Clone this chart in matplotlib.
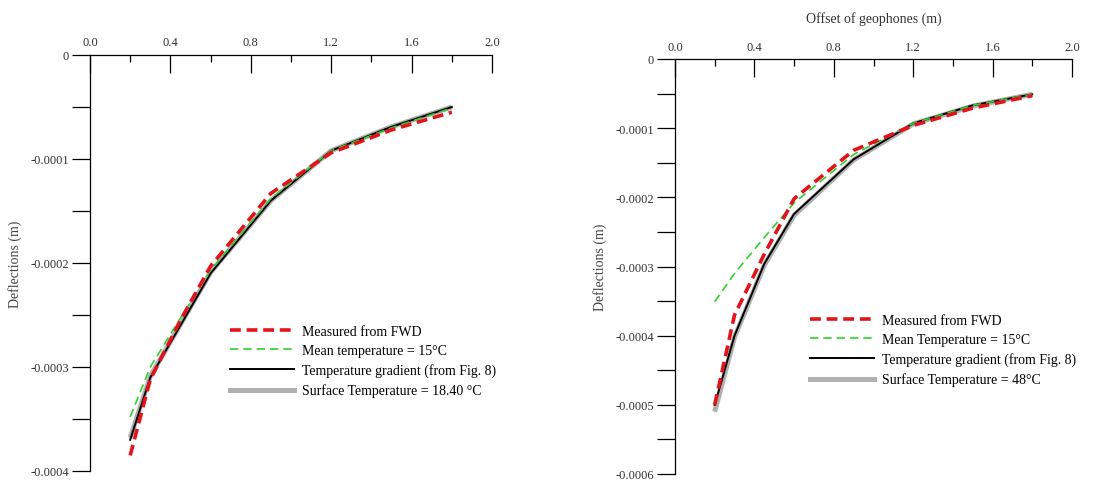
import matplotlib
matplotlib.use("Agg")
import matplotlib.pyplot as plt
from matplotlib.ticker import FixedLocator, FixedFormatter
from matplotlib.lines import Line2D

plt.rcParams['font.family'] = ['Liberation Serif', 'DejaVu Serif']

# Geophone offsets (m)
offsets = [0.2, 0.3, 0.45, 0.6, 0.9, 1.2, 1.5, 1.8]

# Left panel: surface temperature 18.40 °C
left_measured = [-0.000385, -0.000312, -0.000255, -0.000203, -0.000133, -0.000094, -0.000072, -0.000055]
left_mean = [-0.000348, -0.000300, -0.000253, -0.000207, -0.000138, -0.000092, -0.000070, -0.000051]
left_gradient = [-0.000370, -0.000310, -0.000260, -0.000210, -0.000140, -0.000092, -0.000069, -0.000050]
left_surface = [-0.000368, -0.000309, -0.000259, -0.000209, -0.000140, -0.000092, -0.000069, -0.000050]

# Right panel: surface temperature 48 °C
right_measured = [-0.000500, -0.000370, -0.000282, -0.000202, -0.000132, -0.000096, -0.000071, -0.000053]
right_mean = [-0.000351, -0.000310, -0.000258, -0.000208, -0.000138, -0.000093, -0.000067, -0.000051]
right_gradient = [-0.000500, -0.000400, -0.000296, -0.000224, -0.000145, -0.000093, -0.000067, -0.000051]
right_surface = [-0.000510, -0.000402, -0.000298, -0.000226, -0.000146, -0.000094, -0.000068, -0.000051]

left_labels = ["Measured from FWD", "Mean temperature = 15°C",
               "Temperature gradient (from Fig. 8)", "Surface Temperature = 18.40 °C"]
right_labels = ["Measured from FWD", "Mean Temperature = 15°C",
                "Temperature gradient (from Fig. 8)", "Surface Temperature = 48°C"]

x_major = [0.0, 0.4, 0.8, 1.2, 1.6, 2.0]
x_major_labels = ["0.0", "0.4", "0.8", "1.2", "1.6", "2.0"]
x_minor = [0.2, 0.6, 1.0, 1.4, 1.8]

left_y_ticks = [0, -0.0001, -0.0002, -0.0003, -0.0004]
left_y_labels = ["0", "-0.0001", "-0.0002", "-0.0003", "-0.0004"]
left_y_minor = [-0.00005, -0.00015, -0.00025, -0.00035]

right_y_ticks = [0, -0.0001, -0.0002, -0.0003, -0.0004, -0.0005, -0.0006]
right_y_labels = ["0", "-0.0001", "-0.0002", "-0.0003", "-0.0004", "-0.0005", "-0.0006"]
right_y_minor = [-0.00005, -0.00015, -0.00025, -0.00035, -0.00045, -0.00055]

RED = "#e3121b"
GREEN = "#2fd12f"
GRAY = "#b0b0b0"
FS = 9

W, H = 1104, 481
fig = plt.figure(figsize=(W / 100, H / 100), dpi=100)


def panel(rect_px, measured, mean, gradient, surface, labels,
          yticks, ylabels, yminor, ymin, legend_px, ylabel_x_px, xpad):
    x0, y_top, x1, y_bot = rect_px
    ax = fig.add_axes([x0 / W, (H - y_bot) / H, (x1 - x0) / W, (y_bot - y_top) / H])
    ax.plot(offsets, surface, color=GRAY, lw=3.6, solid_capstyle='butt', zorder=2)
    ax.plot(offsets, gradient, color="black", lw=1.4, zorder=3)
    ax.plot(offsets, mean, color=GREEN, lw=1.2, ls=(0, (5, 3)), zorder=4)
    ax.plot(offsets, measured, color=RED, lw=2.6, ls=(0, (3, 1.6)), zorder=5)
    ax.set_xlim(0, 2.0)
    ax.set_ylim(ymin, 0)
    for s in ("right", "bottom"):
        ax.spines[s].set_visible(False)
    for s in ("left", "top"):
        ax.spines[s].set_linewidth(0.9)
    ax.xaxis.set_ticks_position("top")
    ax.xaxis.set_major_locator(FixedLocator(x_major))
    ax.xaxis.set_major_formatter(FixedFormatter(x_major_labels))
    ax.xaxis.set_minor_locator(FixedLocator(x_minor))
    ax.tick_params(axis="x", which="major", direction="in", length=13, width=0.9,
                   labelsize=FS, pad=xpad, colors="black", labelcolor="#333333")
    ax.tick_params(axis="x", which="minor", direction="in", length=5, width=0.9)
    ax.yaxis.set_major_locator(FixedLocator(yticks))
    ax.yaxis.set_major_formatter(FixedFormatter(ylabels))
    ax.yaxis.set_minor_locator(FixedLocator(yminor))
    ax.tick_params(axis="y", which="both", direction="out", length=13, width=0.9,
                   labelsize=FS, pad=2, labelcolor="#333333")
    ax.set_ylabel("Deflections (m)", fontsize=FS + 1, color="#444444")
    ax.yaxis.set_label_coords((ylabel_x_px - x0) / (x1 - x0), 0.5)
    handles = [
        Line2D([], [], color=RED, lw=2.6, ls=(0, (3, 1.6))),
        Line2D([], [], color=GREEN, lw=1.2, ls=(0, (5, 3))),
        Line2D([], [], color="black", lw=1.4),
        Line2D([], [], color=GRAY, lw=3.6),
    ]
    lx, ly = legend_px
    fig.legend(handles, labels, loc="upper left",
               bbox_to_anchor=(lx / W, (H - ly) / H), frameon=False,
               fontsize=FS + 1, handlelength=4.6, handletextpad=0.6,
               labelspacing=0.45, borderpad=0, borderaxespad=0)
    return ax


axL = panel((90, 56, 492, 472), left_measured, left_mean, left_gradient, left_surface,
            left_labels, left_y_ticks, left_y_labels, left_y_minor, -0.0004, (230, 326), 22, 5)
axR = panel((675, 60, 1072, 475), right_measured, right_mean, right_gradient, right_surface,
            right_labels, right_y_ticks, right_y_labels, right_y_minor, -0.0006, (810, 315), 607, 4)
axR.set_xlabel("Offset of geophones (m)", fontsize=FS + 1, color="#333333", labelpad=14)
axR.xaxis.set_label_position("top")

fig.savefig("out.png", dpi=100)
